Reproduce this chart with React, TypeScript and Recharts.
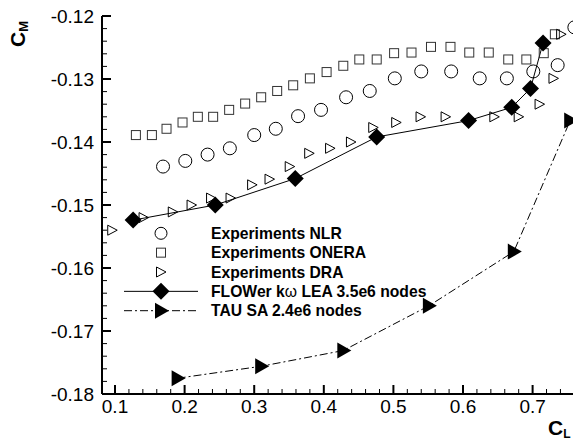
import React from 'react';
import { ComposedChart, Line, Scatter, XAxis, YAxis, Legend } from 'recharts';

// Experimental data: lift coefficient vs. pitching moment coefficient
const nlrCL = [0.169, 0.201, 0.233, 0.265, 0.3, 0.331, 0.363, 0.396, 0.432, 0.466, 0.502, 0.54, 0.583, 0.624, 0.663, 0.701, 0.736, 0.76];
const nlrCM = [-0.1439, -0.143, -0.142, -0.141, -0.1389, -0.1379, -0.1359, -0.1349, -0.1329, -0.1319, -0.1299, -0.1288, -0.1288, -0.1299, -0.1299, -0.1288, -0.1278, -0.1218];

const oneraCL = [0.13, 0.153, 0.174, 0.197, 0.219, 0.241, 0.264, 0.287, 0.31, 0.333, 0.356, 0.38, 0.404, 0.428, 0.451, 0.476, 0.501, 0.526, 0.554, 0.582, 0.609, 0.637, 0.665, 0.691, 0.716, 0.732];
const oneraCM = [-0.1389, -0.1389, -0.1379, -0.1369, -0.136, -0.136, -0.1349, -0.1339, -0.1329, -0.1319, -0.131, -0.1299, -0.1289, -0.1279, -0.1269, -0.1269, -0.1259, -0.1258, -0.1249, -0.1249, -0.1258, -0.1258, -0.1269, -0.1269, -0.1259, -0.1229];

const draCL = [0.096, 0.141, 0.183, 0.21, 0.238, 0.266, 0.297, 0.322, 0.351, 0.379, 0.409, 0.439, 0.471, 0.504, 0.539, 0.575, 0.645, 0.68, 0.71, 0.73, 0.741];
const draCM = [-0.154, -0.152, -0.1511, -0.15, -0.1489, -0.1489, -0.1468, -0.1459, -0.1439, -0.1418, -0.141, -0.14, -0.1377, -0.1369, -0.136, -0.136, -0.136, -0.136, -0.134, -0.1299, -0.1229];

// CFD results
const flowerCL = [0.126, 0.244, 0.359, 0.476, 0.608, 0.67, 0.697, 0.715];
const flowerCM = [-0.1524, -0.15, -0.1458, -0.1392, -0.1366, -0.1345, -0.1315, -0.1243];

const tauCL = [0.19, 0.31, 0.428, 0.551, 0.673, 0.754];
const tauCM = [-0.1775, -0.1756, -0.1731, -0.166, -0.1574, -0.1366];

const xMajorTicks = [0.1, 0.2, 0.3, 0.4, 0.5, 0.6, 0.7];
const yMajorTicks = [-0.18, -0.17, -0.16, -0.15, -0.14, -0.13, -0.12];

const legendLabels = [
  'Experiments NLR',
  'Experiments ONERA',
  'Experiments DRA',
  'FLOWer kω LEA 3.5e6 nodes',
  'TAU SA 2.4e6 nodes',
];

const zip = (xs: number[], ys: number[]) => xs.map((cl, i) => ({ cl, cm: ys[i] }));

const nlr = zip(nlrCL, nlrCM);
const onera = zip(oneraCL, oneraCM);
const dra = zip(draCL, draCM);
const flower = zip(flowerCL, flowerCM);
const tau = zip(tauCL, tauCM);

// minor ticks every 0.02 in CL and 0.002 in CM
const xTicks = Array.from({ length: 34 }, (_, i) => +(0.1 + i * 0.02).toFixed(2));
const yTicks = Array.from({ length: 31 }, (_, i) => +(-0.18 + i * 0.002).toFixed(3));

const FONT = '"Liberation Sans", Arial, Helvetica, sans-serif';
const Y_TICK_MARGIN = 8;
const DASH_DOT = '8 3 2 3';

const isMajor = (v: number, list: number[]) => list.some((m) => Math.abs(m - v) < 1e-6);

// marker shapes
const OpenCircle = ({ cx, cy, r = 6.5 }: any) => (
  <circle cx={cx} cy={cy} r={r} fill="none" stroke="#000" strokeWidth={1} />
);
const OpenSquare = ({ cx, cy, s = 9 }: any) => (
  <rect x={cx - s / 2} y={cy - s / 2} width={s} height={s} fill="none" stroke="#333" strokeWidth={1} />
);
const OpenTriangle = ({ cx, cy }: any) => (
  <polygon
    points={`${cx - 4.5},${cy - 5} ${cx + 5},${cy} ${cx - 4.5},${cy + 5}`}
    fill="none"
    stroke="#000"
    strokeWidth={1}
  />
);
const Diamond = ({ cx, cy }: any) => (
  <polygon points={`${cx},${cy - 8.5} ${cx + 8.5},${cy} ${cx},${cy + 8.5} ${cx - 8.5},${cy}`} fill="#000" />
);
const FilledTriangle = ({ cx, cy }: any) => (
  <polygon points={`${cx - 6},${cy - 8} ${cx + 8},${cy} ${cx - 6},${cy + 8}`} fill="#000" />
);

const YTick = (props: any) => {
  const { x, y, payload } = props;
  const v = payload.value;
  const major = isMajor(v, yMajorTicks);
  const ax = x + Y_TICK_MARGIN;
  return (
    <g>
      <line x1={ax} x2={ax + (major ? 9 : 5)} y1={y} y2={y} stroke="#000" strokeWidth={major ? 2 : 1} />
      {major && (
        <text x={x} y={y + 6.8} textAnchor="end" fontSize={19} fontFamily={FONT} fill="#000">
          {v.toFixed(2)}
        </text>
      )}
    </g>
  );
};

const XTick = (props: any) => {
  const { x, y, payload } = props;
  const v = payload.value;
  const major = isMajor(v, xMajorTicks);
  return (
    <g>
      <line x1={x} x2={x} y1={y} y2={y - (major ? 9 : 5)} stroke="#000" strokeWidth={major ? 2 : 1} />
      {major && (
        <text x={x} y={y + 19} textAnchor="middle" fontSize={19} fontFamily={FONT} fill="#000">
          {v.toFixed(1)}
        </text>
      )}
    </g>
  );
};

const renderLegend = () => {
  const rowY = (i: number) => 11.3 + i * 19.35;
  const symX = 51;
  return (
    <svg width={340} height={100} style={{ display: 'block' }}>
      <OpenCircle cx={symX} cy={rowY(0)} r={6} />
      <OpenSquare cx={symX} cy={rowY(1)} />
      <OpenTriangle cx={symX} cy={rowY(2)} />
      <line x1={14} x2={88} y1={rowY(3)} y2={rowY(3)} stroke="#000" strokeWidth={1} />
      <Diamond cx={symX} cy={rowY(3)} />
      <line x1={14} x2={88} y1={rowY(4)} y2={rowY(4)} stroke="#000" strokeWidth={1} strokeDasharray={DASH_DOT} />
      <FilledTriangle cx={symX} cy={rowY(4)} />
      {legendLabels.map((label, i) => (
        <text key={label} x={101} y={rowY(i) + 5.5} fontSize={15.7} fontWeight="bold" fontFamily={FONT} fill="#000">
          {label.includes('ω') ? (
            <>
              {label.split('ω')[0]}
              <tspan fontWeight="normal">ω</tspan>
              {label.split('ω')[1]}
            </>
          ) : (
            label
          )}
        </text>
      ))}
    </svg>
  );
};

export default function App() {
  return (
    <div style={{ position: 'absolute', left: 0, top: 0, width: 573, height: 445, overflow: 'hidden', background: '#fff' }}>
      <ComposedChart width={641} height={445} margin={{ top: 16, right: 4, bottom: 21, left: 0 }}>
        <XAxis
          dataKey="cl"
          type="number"
          domain={[0.0813, 0.85]}
          allowDataOverflow
          ticks={xTicks}
          interval={0}
          height={30}
          tickSize={0}
          tickMargin={0}
          tickLine={false}
          axisLine={{ stroke: '#000', strokeWidth: 2 }}
          tick={<XTick />}
          label={{
            content: () => (
              <text x={548} y={435} fontFamily={FONT} fontWeight="bold" fill="#000" fontSize={21}>
                C<tspan fontSize={12} dy={3}>L</tspan>
              </text>
            ),
          }}
        />
        <YAxis
          dataKey="cm"
          type="number"
          domain={[-0.18, -0.12]}
          allowDataOverflow
          ticks={yTicks}
          interval={0}
          width={102}
          tickSize={0}
          tickMargin={Y_TICK_MARGIN}
          tickLine={false}
          axisLine={{ stroke: '#000', strokeWidth: 2 }}
          tick={<YTick />}
          label={{
            content: () => (
              <text transform="translate(25,47) rotate(-90)" fontFamily={FONT} fontWeight="bold" fill="#000" fontSize={21}>
                C<tspan fontSize={13} dy={3}>M</tspan>
              </text>
            ),
          }}
        />
        <Legend
          layout="vertical"
          align="center"
          verticalAlign="middle"
          content={renderLegend}
          wrapperStyle={{ left: 110, top: 222, width: 340, height: 100 }}
        />
        <Scatter name="Experiments NLR" data={nlr} dataKey="cm" shape={(p: any) => <OpenCircle cx={p.cx} cy={p.cy} />} isAnimationActive={false} />
        <Scatter name="Experiments ONERA" data={onera} dataKey="cm" shape={(p: any) => <OpenSquare cx={p.cx} cy={p.cy} />} isAnimationActive={false} />
        <Scatter name="Experiments DRA" data={dra} dataKey="cm" shape={(p: any) => <OpenTriangle cx={p.cx} cy={p.cy} />} isAnimationActive={false} />
        <Line
          name="FLOWer"
          data={flower}
          dataKey="cm"
          type="linear"
          stroke="#000"
          strokeWidth={1}
          dot={(p: any) => <Diamond key={`fd${p.index}`} cx={p.cx} cy={p.cy} />}
          activeDot={false}
          isAnimationActive={false}
        />
        <Line
          name="TAU"
          data={tau}
          dataKey="cm"
          type="linear"
          stroke="#000"
          strokeWidth={1}
          strokeDasharray={DASH_DOT}
          dot={(p: any) => <FilledTriangle key={`td${p.index}`} cx={p.cx} cy={p.cy} />}
          activeDot={false}
          isAnimationActive={false}
        />
      </ComposedChart>
    </div>
  );
}
